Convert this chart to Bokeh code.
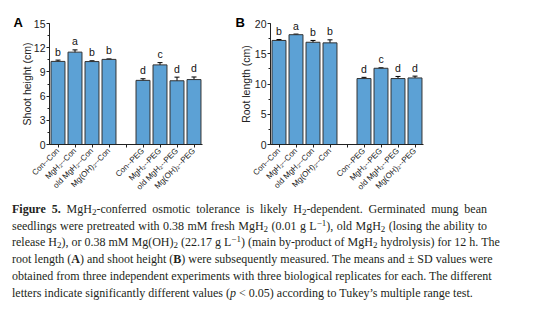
import math
from bokeh.plotting import figure
from bokeh.models import (FactorRange, Range1d, ColumnDataSource, Whisker, TeeHead,
                          SingleIntervalTicker, Div)
from bokeh.layouts import column, row
from bokeh.core.properties import value
from bokeh.embed import file_html
from bokeh.resources import INLINE

# ---- data ----
categories = ["Con--Con", "MgH\u2082--Con", "old MgH\u2082--Con", "Mg(OH)\u2082--Con", " ",
              "Con--PEG", "MgH\u2082--PEG", "old MgH\u2082--PEG", "Mg(OH)\u2082--PEG"]
bar_categories = ["Con--Con", "MgH\u2082--Con", "old MgH\u2082--Con", "Mg(OH)\u2082--Con",
                  "Con--PEG", "MgH\u2082--PEG", "old MgH\u2082--PEG", "Mg(OH)\u2082--PEG"]

shoot_height = [10.3, 11.45, 10.28, 10.55, 7.95, 9.87, 7.9, 8.05]
shoot_sd = [0.16, 0.28, 0.1, 0.06, 0.2, 0.28, 0.45, 0.32]
shoot_letters = ["b", "a", "b", "b", "d", "c", "d", "d"]

root_length = [17.2, 18.15, 16.9, 16.8, 10.9, 12.6, 10.9, 11.0]
root_sd = [0.15, 0.1, 0.3, 0.5, 0.2, 0.08, 0.35, 0.3]
root_letters = ["b", "a", "b", "b", "d", "c", "d", "d"]

BAR = "#5ca1d5"
SANS = "Liberation Sans"
INK = "#222222"


def panel(vals, sd, letters, ymax, interval, ylabel, width, bl, br, bt,
          letter_txt, loff, lab_standoff):
    p = figure(x_range=FactorRange(*categories), y_range=Range1d(0, ymax),
               width=width, height=201, min_border_left=bl, min_border_right=br,
               min_border_top=bt, min_border_bottom=201 - 144,
               output_backend="svg", toolbar_location=None)
    p.outline_line_color = None
    p.xgrid.visible = False
    p.ygrid.visible = False
    src = ColumnDataSource(dict(x=bar_categories, top=vals,
                                upper=[v + s for v, s in zip(vals, sd)],
                                lower=[v - s for v, s in zip(vals, sd)],
                                lab=letters))
    p.vbar(x="x", top="top", width=0.82, source=src, fill_color=BAR,
           line_color="#333333", line_width=1)
    w = Whisker(base="x", upper="upper", lower="lower", source=src,
                line_color="black", line_width=1,
                upper_head=TeeHead(size=5, line_color="black", line_width=1),
                lower_head=TeeHead(size=5, line_color="black", line_width=1))
    p.add_layout(w)
    p.text(x="x", y="upper", text="lab", source=src, text_align="center",
           text_baseline="bottom", y_offset=-2.5, text_font_size="10.5px",
           text_font=value(SANS), text_color="#111111")

    yax = p.yaxis[0]
    yax.ticker = SingleIntervalTicker(interval=interval, num_minor_ticks=2)
    yax.axis_label = ylabel
    yax.axis_label_text_font = SANS
    yax.axis_label_text_font_style = "normal"
    yax.axis_label_text_font_size = "10.5px"
    yax.axis_label_standoff = lab_standoff
    yax.major_label_text_font = SANS
    yax.major_label_text_font_size = "10.5px"
    yax.major_label_standoff = 1
    yax.major_tick_out = 3
    yax.major_tick_in = 0
    yax.minor_tick_out = 2
    yax.minor_tick_in = 0
    yax.axis_line_color = INK
    yax.major_tick_line_color = INK
    yax.minor_tick_line_color = INK
    yax.major_label_text_color = INK
    yax.axis_label_text_color = INK

    xax = p.xaxis[0]
    xax.major_label_orientation = math.pi / 4
    xax.major_label_text_font = SANS
    xax.major_label_text_font_size = "8px"
    xax.major_label_standoff = 2
    xax.major_tick_out = 3
    xax.major_tick_in = 0
    xax.axis_line_color = INK
    xax.major_tick_line_color = INK
    xax.major_label_text_color = INK

    p.title.text = letter_txt
    p.title.align = "left"
    p.title.offset = loff
    p.title.standoff = -13
    p.title.text_font = SANS
    p.title.text_font_style = "bold"
    p.title.text_font_size = "13px"
    p.title.text_color = "black"
    return p


pA = panel(shoot_height, shoot_sd, shoot_letters, 15, 3, "Shoot height (cm)",
           230, 49, 28, 20, "A", -36, -2)
pB = panel(root_length, root_sd, root_letters, 20, 5, "Root length (cm)",
           324, 40, 131, 23, "B", -35, 0)

line_style = "text-align:justify;text-align-last:justify;white-space:nowrap;"
last_style = "text-align:left;white-space:nowrap;"
S = "<sub style='font-size:75%;line-height:0;vertical-align:-0.25em'>2</sub>"
SUP = "<sup style='font-size:75%;line-height:0;vertical-align:0.45em'>\u22121</sup>"
lines = [
    f"<b>Figure 5.</b> MgH{S}-conferred osmotic tolerance is likely H{S}-dependent. Germinated mung bean",
    f"seedlings were pretreated with 0.38 mM fresh MgH{S} (0.01 g L{SUP}), old MgH{S} (losing the ability to",
    f"release H{S}), or 0.38 mM Mg(OH){S} (22.17 g L{SUP}) (main by-product of MgH{S} hydrolysis) for 12 h. The",
    "root length (<b>A</b>) and shoot height (<b>B</b>) were subsequently measured. The means and \u00b1 SD values were",
    "obtained from three independent experiments with three biological replicates for each. The different",
    "letters indicate significantly different values (<i>p</i> &lt; 0.05) according to Tukey\u2019s multiple range test.",
]
inner = "".join(
    f"<div style='{line_style if i < len(lines) - 1 else last_style}'>{t}</div>"
    for i, t in enumerate(lines))
html = (f"<div style='width:475px;margin-left:12px;font-family:\"Liberation Serif\";"
        f"font-size:12px;line-height:16.7px;color:#231f20'>{inner}</div>")
cap = Div(text=html, width=554, height=125, margin=(0, 0, 0, 0))

layout = column(row(pA, pB), cap)
open("out.html", "w").write(file_html(layout, INLINE))
